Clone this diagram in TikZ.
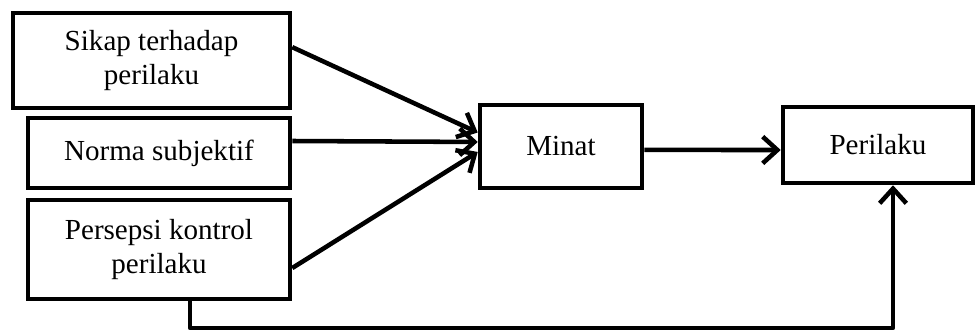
\documentclass[tikz,border=0pt]{standalone}
\usepackage{fontspec}
\setmainfont{Liberation Serif}
\usetikzlibrary{arrows.meta}
\begin{document}
\begin{tikzpicture}[x=0.75pt,y=-0.75pt,
  box/.style={draw=black, line width=3.4pt, fill=white, align=center,
    inner sep=0pt, font=\fontsize{21.8}{25.5}\selectfont},
  link/.style={line width=3.4pt, line join=round,
    -{Straight Barb[length=11pt,width=20pt,line width=3.4pt]}}]
  \useasboundingbox (0,0) rectangle (978,331);

  % factor boxes
  \node[box, minimum width=277*0.75pt, minimum height=95*0.75pt] (sikap) at (151.5,60.5) {Sikap terhadap\\perilaku};
  \node[box, minimum width=262*0.75pt, minimum height=70*0.75pt] (norma) at (159,153) {Norma subjektif};
  \node[box, minimum width=262*0.75pt, minimum height=99*0.75pt] (kontrol) at (159,249.5) {Persepsi kontrol\\perilaku};
  \node[box, minimum width=162*0.75pt, minimum height=83*0.75pt] (minat) at (561,146.5) {Minat};
  \node[box, minimum width=190*0.75pt, minimum height=76*0.75pt] (perilaku) at (878,145) {Perilaku};

  % influences on intention
  \draw[link] ([yshift=10pt]sikap.east) -- ([yshift=10.5pt]minat.west);
  \draw[link] ([yshift=9pt]norma.east) -- ([yshift=3.4pt]minat.west);
  \draw[link] ([yshift=-13.9pt]kontrol.east) -- ([yshift=-4.1pt]minat.west);
  \draw[link] ([yshift=-2.6pt]minat.east) -- ([yshift=-3.75pt]perilaku.west);

  % direct path from perceived control to behaviour
  \coordinate (bottom) at (540,328);
  \draw[link] ([xshift=23.25pt]kontrol.south) |- (bottom) -| ([xshift=11.25pt]perilaku.south);
\end{tikzpicture}
\end{document}
